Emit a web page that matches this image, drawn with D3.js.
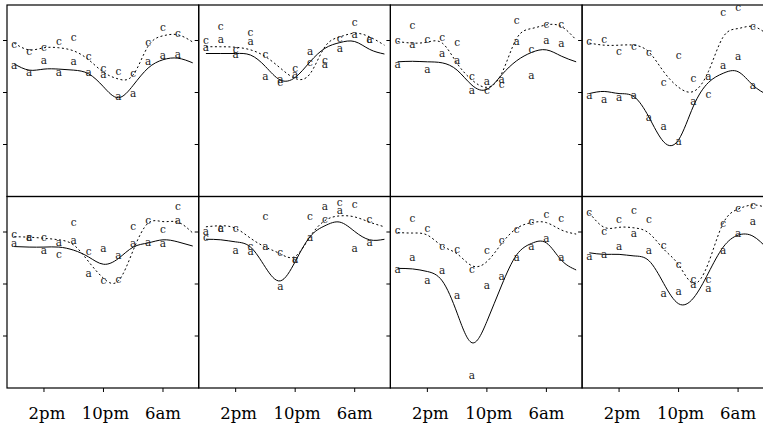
<!doctype html>
<html>
  <head>
    <script src="https://cdn.jsdelivr.net/npm/d3@7/dist/d3.min.js"></script>
    <style>
    body { margin: 0; background: #fff; }
    .frame { fill: none; stroke: #000; stroke-width: 1.2; }
    .tick { stroke: #000; stroke-width: 1; }
    .fitA { fill: none; stroke: #000; stroke-width: 1; }
    .fitC { fill: none; stroke: #000; stroke-width: 1; stroke-dasharray: 2,2.5; }
    .pt { font-family: "DejaVu Serif", serif; font-size: 10.5px; text-anchor: middle; fill: #222; }
    .xlab { font-family: "DejaVu Serif", serif; font-size: 16.5px; text-anchor: middle; }
    </style>
  </head>
  <body>
    <svg id="chart" width="763" height="425"></svg>
    <script>
      // observation hours (10am .. 8am next day) and hours of the fitted curves
      var hours = [10, 12, 14, 16, 18, 20, 22, 24, 26, 28, 30, 32];
      var fitHours = [10, 12, 14, 16, 18, 20, 22, 24, 26, 28, 30, 32, 34];

      var xTicks = [14, 22, 30];
      var xTickLabels = ["2pm", "10pm", "6am"];
      var yTicks = [1, 2, 3];

      // "a" observations, one row per panel (top row left->right, then bottom row)
      var aObs = [
        [2.51, 2.38, 2.61, 2.38, 2.59, 2.38, 2.34, 1.91, 1.97, 2.59, 2.70, 2.72],
        [2.86, 3.01, 2.72, 2.97, 2.30, 2.24, 2.34, 2.78, 2.53, 2.84, 3.11, 3.01],
        [2.52, 2.91, 2.42, 2.74, 2.61, 2.03, 2.19, 2.23, 2.96, 2.32, 2.98, 2.93],
        [1.93, 1.86, 1.89, 1.92, 1.50, 1.33, 1.05, 1.82, 2.29, 2.51, 2.68, 2.13],
        [2.77, 2.89, 2.64, 2.79, 2.83, 2.19, 2.67, 2.54, 2.77, 2.78, 2.77, 3.20],
        [2.99, 3.05, 2.64, 2.62, 2.71, 1.94, 2.45, 2.88, 3.48, 3.41, 2.67, 2.79],
        [2.27, 2.49, 2.06, 2.24, 1.77, 0.22, 1.95, 2.13, 2.49, 2.71, 2.86, 2.49],
        [2.51, 2.56, 2.71, 2.96, 2.64, 1.81, 1.85, 1.98, 1.90, 2.64, 2.96, 3.18]
      ];

      // "c" observations
      var cObs = [
        [2.91, 2.78, 2.86, 2.97, 3.05, 2.68, 2.45, 2.39, 2.36, 2.95, 3.24, 3.13],
        [2.99, 3.26, 2.82, 3.14, 2.72, 2.18, 2.45, 2.57, 2.61, 3.03, 3.34, 3.01],
        [2.98, 3.27, 3.00, 3.04, 2.95, 2.29, 2.03, 2.14, 3.38, 2.82, 3.30, 3.30],
        [2.96, 3.01, 2.78, 2.88, 2.75, 2.18, 2.70, 2.26, 1.95, 3.52, 3.62, 3.25],
        [2.94, 2.88, 2.88, 2.56, 3.17, 2.62, 2.06, 2.08, 3.10, 3.20, 3.03, 3.48],
        [2.88, 3.05, 3.05, 2.71, 3.28, 2.60, 2.46, 3.28, 3.22, 3.56, 3.52, 3.22],
        [3.01, 3.24, 3.05, 2.71, 2.65, 2.26, 2.63, 2.83, 3.03, 3.18, 3.33, 3.24],
        [3.37, 2.99, 3.22, 3.41, 3.22, 2.73, 2.37, 2.08, 2.08, 3.15, 3.44, 3.49]
      ];

      // smooth fit through "a" (solid line)
      var aFit = [
        [2.55, 2.43, 2.45, 2.45, 2.43, 2.36, 2.11, 1.90, 2.14, 2.47, 2.63, 2.66, 2.57],
        [2.75, 2.75, 2.75, 2.72, 2.50, 2.24, 2.29, 2.59, 2.85, 2.96, 2.98, 2.83, 2.74],
        [2.59, 2.60, 2.59, 2.57, 2.43, 2.14, 2.06, 2.34, 2.61, 2.77, 2.82, 2.70, 2.59],
        [1.98, 2.02, 1.98, 1.92, 1.53, 1.05, 1.09, 1.74, 2.19, 2.37, 2.40, 2.14, 1.95],
        [2.72, 2.71, 2.71, 2.71, 2.65, 2.52, 2.38, 2.49, 2.71, 2.79, 2.85, 2.81, 2.73],
        [2.86, 2.85, 2.81, 2.71, 2.32, 2.06, 2.43, 2.91, 3.12, 3.19, 3.01, 2.85, 2.86],
        [2.30, 2.29, 2.24, 2.06, 1.44, 0.87, 1.28, 1.98, 2.56, 2.78, 2.79, 2.46, 2.27],
        [2.60, 2.57, 2.57, 2.54, 2.45, 2.01, 1.62, 1.73, 2.21, 2.71, 2.94, 2.92, 2.67]
      ];

      // smooth fit through "c" (dashed line)
      var cFit = [
        [2.95, 2.82, 2.86, 2.86, 2.80, 2.63, 2.39, 2.26, 2.34, 2.89, 3.09, 3.11, 2.97],
        [2.88, 2.88, 2.87, 2.82, 2.69, 2.47, 2.27, 2.36, 2.88, 3.07, 3.14, 3.07, 2.91],
        [2.98, 2.95, 2.97, 2.95, 2.56, 2.24, 2.10, 2.37, 3.04, 3.23, 3.30, 3.27, 3.01],
        [2.95, 2.91, 2.91, 2.91, 2.78, 2.40, 2.10, 2.02, 2.40, 3.07, 3.23, 3.27, 3.11],
        [2.91, 2.90, 2.88, 2.85, 2.75, 2.43, 2.11, 2.06, 2.65, 3.17, 3.20, 3.19, 2.98],
        [3.10, 3.12, 3.07, 2.88, 2.71, 2.58, 2.53, 2.91, 3.22, 3.31, 3.29, 3.19, 3.10],
        [2.99, 2.98, 2.94, 2.73, 2.58, 2.35, 2.43, 2.78, 3.07, 3.18, 3.18, 3.04, 2.96],
        [3.37, 3.09, 3.09, 3.08, 2.98, 2.67, 2.37, 2.01, 2.40, 3.17, 3.44, 3.52, 3.46]
      ];

      var marginLeft = 7, marginTop = 5, pw = 191.7, ph = 191.5;

      var x = d3.scaleLinear().domain([9.03, 34.8]).range([0, pw]);
      var y = d3.scaleLinear().domain([0, ph / 52]).range([ph, 0]);

      var svg = d3.select("#chart");

      var line = d3.line()
        .x(d => x(d[0]))
        .y(d => y(d[1]))
        .curve(d3.curveNatural);

      d3.range(8).forEach(i => {
        var col = i % 4, row = Math.floor(i / 4);
        var g = svg.append("g")
          .attr("transform", `translate(${marginLeft + col * pw},${marginTop + row * ph})`);

        g.append("rect")
          .attr("class", "frame")
          .attr("width", pw)
          .attr("height", ph);

        g.selectAll("line.ytick")
          .data(yTicks)
          .enter()
          .append("line")
            .attr("class", "tick")
            .attr("x1", -4).attr("x2", 0)
            .attr("y1", d => y(d)).attr("y2", d => y(d));

        if (row === 1) {
          g.selectAll("line.xtick")
            .data(xTicks)
            .enter()
            .append("line")
              .attr("class", "tick")
              .attr("x1", d => x(d)).attr("x2", d => x(d))
              .attr("y1", ph).attr("y2", ph + 4);
          g.selectAll("text.xlab")
            .data(xTicks)
            .enter()
            .append("text")
              .attr("class", "xlab")
              .attr("x", (d, j) => x(d) + [3, 2, 0][j])
              .attr("y", ph + 31)
              .text((d, j) => xTickLabels[j]);
        }

        g.append("path")
          .attr("class", "fitA")
          .attr("d", line(fitHours.map((h, j) => [h, aFit[i][j]])));
        g.append("path")
          .attr("class", "fitC")
          .attr("d", line(fitHours.map((h, j) => [h, cFit[i][j]])));

        g.selectAll("text.ptA")
          .data(hours.map((h, j) => [h, aObs[i][j]]))
          .enter()
          .append("text")
            .attr("class", "pt")
            .attr("x", d => x(d[0]))
            .attr("y", d => y(d[1]))
            .attr("dy", "0.27em")
            .text("a");
        g.selectAll("text.ptC")
          .data(hours.map((h, j) => [h, cObs[i][j]]))
          .enter()
          .append("text")
            .attr("class", "pt")
            .attr("x", d => x(d[0]))
            .attr("y", d => y(d[1]))
            .attr("dy", "0.27em")
            .text("c");
      });
    </script>
  </body>
</html>
